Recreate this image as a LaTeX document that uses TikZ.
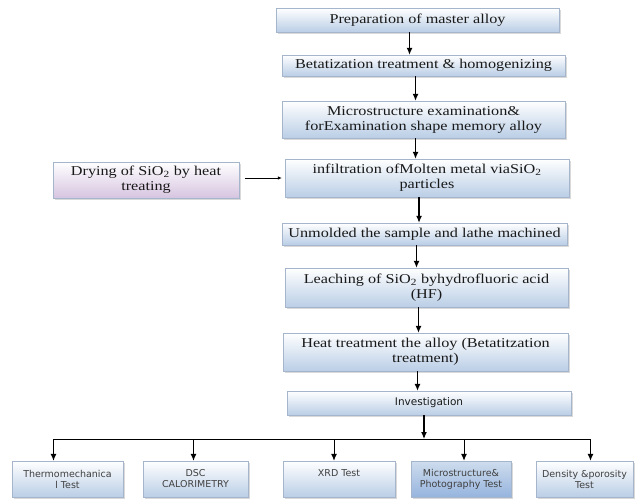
\documentclass[tikz,border=0pt]{standalone}
\usepackage{fontspec}
\setmainfont[FakeStretch=1.2]{Liberation Serif}
\setsansfont{DejaVu Sans}
\usetikzlibrary{arrows.meta,shadows}
\definecolor{boxblue}{RGB}{186,206,230}
\definecolor{boxedge}{RGB}{165,182,204}
\definecolor{boxlilac}{RGB}{214,196,224}
\definecolor{boxdeep}{RGB}{150,180,222}
\begin{document}
\begin{tikzpicture}[x=1pt,y=-1pt,
  stage/.style={draw=boxedge, top color=white, bottom color=boxblue,
    drop shadow={opacity=0.3, shadow xshift=1.5pt, shadow yshift=-2pt},
    align=center, inner sep=1pt, text=black!90,
    font=\fontsize{13.5}{15}\selectfont},
  test/.style={stage, minimum height=36pt, text=black!75, font=\sffamily\fontsize{9.5}{11}\selectfont},
  flow/.style={-{Latex[length=7pt,width=6pt]}, line width=1.2pt},
  feed/.style={-{Latex[length=4pt,width=3.5pt]}, line width=0.7pt}]
\useasboundingbox (0,0) rectangle (638,499);

% Main process chain
\node[stage, minimum width=283pt, minimum height=24pt] (prep) at (417.5,20) {Preparation of master alloy};
\node[stage, minimum width=283pt, minimum height=21pt] (beta) at (423.5,65.5) {Betatization treatment \& homogenizing};
\node[stage, minimum width=283pt, minimum height=37pt] (micro) at (423.5,119.5) {Microstructure examination\&\\forExamination shape memory alloy};
\node[stage, minimum width=284pt, minimum height=38pt] (infil) at (427,178) {infiltration ofMolten metal viaSiO\textsubscript{2}\\particles};
\node[stage, minimum width=285pt, minimum height=22pt] (unmold) at (424.5,234) {Unmolded the sample and lathe machined};
\node[stage, minimum width=283pt, minimum height=39pt] (leach) at (426.5,287.5) {Leaching of SiO\textsubscript{2} byhydrofluoric acid\\(HF)};
\node[stage, minimum width=285pt, minimum height=38pt] (heat) at (425.5,352) {Heat treatment the alloy (Betatitzation\\treatment)};
\node[stage, minimum width=284pt, minimum height=24pt, font=\sffamily\fontsize{10.5}{12}\selectfont] (inv) at (429,403) {Investigation};

% Side input
\node[stage, top color=white, bottom color=boxlilac, minimum width=186pt, minimum height=36pt] (dry) at (146,180) {Drying of SiO\textsubscript{2} by heat\\treating};
\draw[feed, shorten <=6pt, shorten >=3pt] (dry.east |- infil.west) -- (infil.west);

\foreach \a/\b in {prep/beta, beta/micro, micro/infil, infil/unmold, unmold/leach, leach/heat, heat/inv}
  \draw[flow] ([xshift=-8pt]\a.south) -- ([xshift=-8pt]\a.south |- \b.north);

% Tests
\node[test, minimum width=111pt] (t1) at (67.5,479) {Thermomechanica\\l Test};
\node[test, minimum width=105pt] (t2) at (195.5,479) {DSC\\CALORIMETRY};
\node[test, minimum width=112pt] (t3) at (339,479) {XRD Test\\\mbox{}};
\node[test, minimum width=100pt, top color=boxblue!70, bottom color=boxdeep] (t4) at (461,479) {Microstructure\&\\Photography Test};
\node[test, minimum width=97pt] (t5) at (584.5,479) {Density \&porosity\\Test};

% Distribution bus
\coordinate (busy) at (0,439);
\coordinate (bus) at ([xshift=-5pt]inv.south |- busy);
\draw[flow] ([xshift=-5pt]inv.south) -- (bus);
\foreach \t/\dx in {t1/-14, t2/-2, t3/-5, t4/3, t5/6}
  \draw[flow, line width=1pt] (bus) -| ([xshift=\dx pt]\t.north);

\end{tikzpicture}
\end{document}
